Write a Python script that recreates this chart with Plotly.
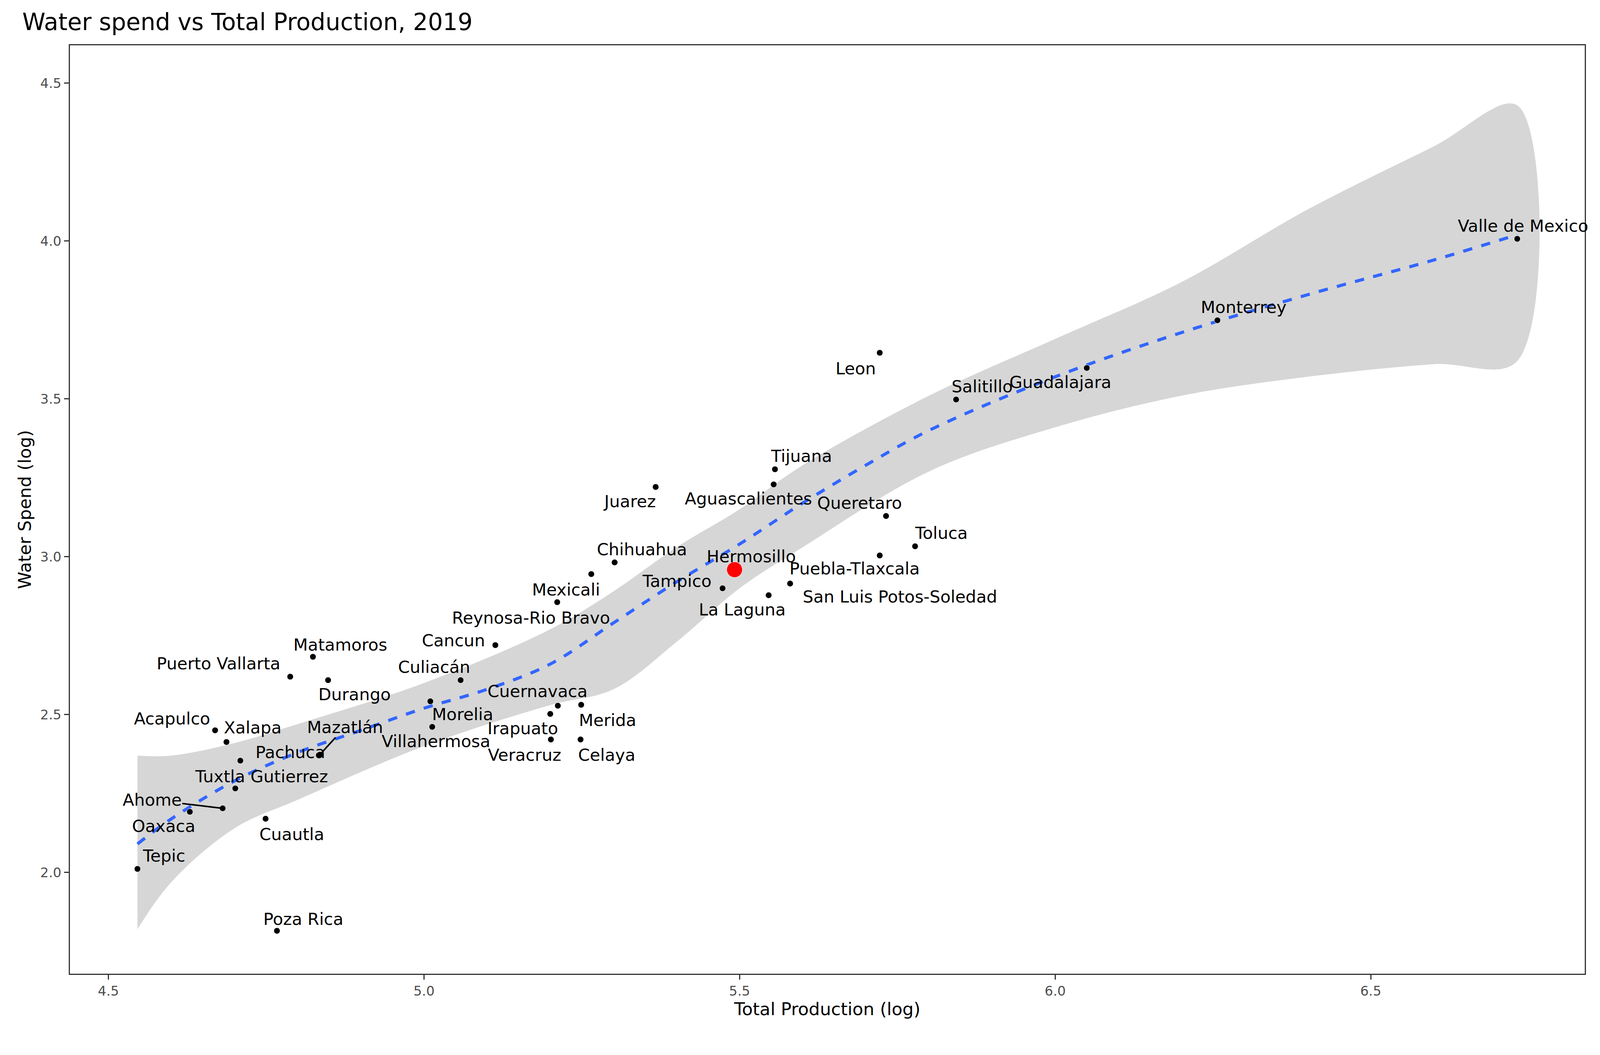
import plotly.graph_objects as go

# Cities: log total production, log water spend
cities = ["Valle de Mexico", "Monterrey", "Guadalajara", "Leon", "Salitillo", "Tijuana",
          "Aguascalientes", "Queretaro", "Toluca", "Juarez", "Puebla-Tlaxcala",
          "San Luis Potos-Soledad", "La Laguna", "Hermosillo", "Tampico", "Chihuahua",
          "Mexicali", "Reynosa-Rio Bravo", "Cancun", "Culiacán", "Durango", "Matamoros",
          "Puerto Vallarta", "Morelia", "Villahermosa", "Cuernavaca", "Merida", "Irapuato",
          "Veracruz", "Celaya", "Acapulco", "Xalapa", "Mazatlán", "Pachuca",
          "Tuxtla Gutierrez", "Ahome", "Oaxaca", "Cuautla", "Tepic", "Poza Rica"]
production = [6.732, 6.257, 6.050, 5.722, 5.843, 5.556, 5.554, 5.732, 5.778, 5.367, 5.722,
              5.580, 5.546, 5.492, 5.473, 5.302, 5.265, 5.211, 5.113, 5.058, 4.848, 4.824,
              4.788, 5.010, 5.013, 5.212, 5.249, 5.200, 5.201, 5.248, 4.669, 4.687, 4.835,
              4.709, 4.701, 4.681, 4.629, 4.749, 4.546, 4.767]
water = [4.007, 3.749, 3.598, 3.646, 3.498, 3.277, 3.229, 3.129, 3.033, 3.221, 3.004,
         2.915, 2.878, 2.959, 2.900, 2.982, 2.945, 2.856, 2.720, 2.609, 2.609, 2.683,
         2.620, 2.542, 2.461, 2.528, 2.531, 2.502, 2.421, 2.421, 2.450, 2.413, 2.373,
         2.354, 2.266, 2.203, 2.192, 2.170, 2.011, 1.815]

# Label offsets (display px at 1568 wide), scaled later
label_dx = [5, 22, -22, -20, 22, 22, -21, -22, 22, -22, -21, 92, -22, 14, -38, 23, -21, -22,
            -35, -22, 22, 23, -60, 27, 3, -17, 22, -23, -22, 22, -36, 22, 21, 42, 22, -59,
            -22, 22, 22, 22]
label_dy = [-11, -11, 12, 13, -11, -11, 12, -11, -11, 12, 11, 11, 12, -11, -6, -11, 13, 13,
            -4, -11, 12, -10, -11, 11, 12, -12, 13, 12, 13, 13, -10, -12, -23, -7, -10, -7,
            12, 13, -11, -10]
with_segment = ["Mazatlán", "Ahome"]

# Loess fit and confidence band
fit_x = [4.546, 4.6, 4.7, 4.8, 4.9, 5.0, 5.1, 5.2, 5.3, 5.4, 5.5, 5.6, 5.7, 5.8, 6.0, 6.2,
         6.4, 6.6, 6.732]
fit_y = [2.09, 2.17, 2.29, 2.38, 2.45, 2.52, 2.58, 2.66, 2.79, 2.92, 3.04, 3.17, 3.29, 3.40,
         3.57, 3.71, 3.83, 3.94, 4.02]
band_x = [4.546, 4.6, 4.7, 4.8, 5.0, 5.2, 5.3, 5.4, 5.5, 5.6, 5.8, 6.0, 6.2, 6.4, 6.6, 6.732]
band_hi = [2.37, 2.37, 2.41, 2.47, 2.60, 2.77, 2.89, 3.03, 3.15, 3.29, 3.51, 3.69, 3.87, 4.10,
           4.30, 4.43]
band_lo = [1.82, 1.97, 2.14, 2.23, 2.40, 2.53, 2.58, 2.73, 2.90, 3.03, 3.27, 3.41, 3.51, 3.57,
           3.61, 3.62]

S = 3.06
fig = go.Figure()

fig.add_trace(go.Scatter(x=band_x + band_x[::-1], y=band_hi + band_lo[::-1], fill="toself",
                         fillcolor="rgba(153,153,153,0.4)", line=dict(width=0, shape="spline"),
                         hoverinfo="skip", showlegend=False))
fig.add_trace(go.Scatter(x=fit_x, y=fit_y, mode="lines", line_shape="spline",
                         line=dict(color="#3366FF", width=8, dash="dash"), showlegend=False))

colors = ["red" if c == "Hermosillo" else "black" for c in cities]
sizes = [40 if c == "Hermosillo" else 16 for c in cities]
fig.add_trace(go.Scatter(x=production, y=water, mode="markers",
                         marker=dict(color=colors, size=sizes, opacity=1), showlegend=False))

for c, x, y, dx, dy in zip(cities, production, water, label_dx, label_dy):
    if c in with_segment:
        fig.add_annotation(x=x, y=y, text=c, showarrow=True, arrowhead=0, arrowwidth=4,
                           arrowcolor="black", ax=dx * S, ay=dy * S, standoff=0,
                           font=dict(size=43, color="black"))
    else:
        fig.add_annotation(x=x, y=y, text=c, showarrow=False, xshift=dx * S, yshift=-dy * S,
                           font=dict(size=43, color="black"))

fig.add_annotation(xref="paper", yref="paper", x=1, y=-0.1, xanchor="right", yanchor="top",
                   text="Source: INEGI Economic Census 2019", showarrow=False,
                   font=dict(size=36, color="black"))

fig.update_layout(
    title=dict(text="Water spend vs Total Production, 2019", x=0.012, y=0.99,
               font=dict(size=60, color="black")),
    plot_bgcolor="white", paper_bgcolor="white",
    font=dict(family="DejaVu Sans"),
    margin=dict(l=171, r=31, t=108, b=200),
)
fig.update_xaxes(range=[4.439, 6.839], tickvals=[4.5, 5.0, 5.5, 6.0, 6.5],
                 ticktext=["4.5", "5.0", "5.5", "6.0", "6.5"], showgrid=False, zeroline=False,
                 showline=True, mirror=True, linecolor="#333333", linewidth=3,
                 ticks="outside", ticklen=12, tickwidth=3, tickcolor="#333333",
                 tickfont=dict(size=34, color="#4d4d4d"),
                 title=dict(text="Total Production (log)", font=dict(size=45, color="black"),
                            standoff=10))
fig.update_yaxes(range=[1.679, 4.62], tickvals=[2.0, 2.5, 3.0, 3.5, 4.0, 4.5],
                 ticktext=["2.0", "2.5", "3.0", "3.5", "4.0", "4.5"], showgrid=False,
                 zeroline=False, showline=True, mirror=True, linecolor="#333333", linewidth=3,
                 ticks="outside", ticklen=12, tickwidth=3, tickcolor="#333333",
                 tickfont=dict(size=34, color="#4d4d4d"),
                 title=dict(text="Water Spend (log)", font=dict(size=45, color="black"),
                            standoff=10))

fig.write_html("out.html")
